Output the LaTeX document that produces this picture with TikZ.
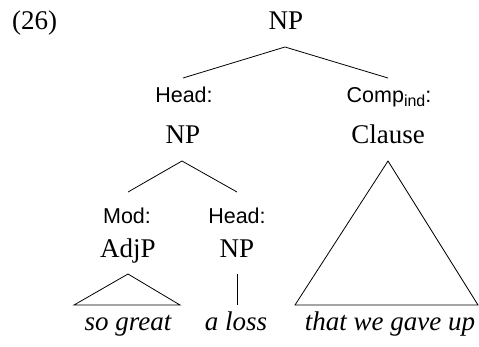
\documentclass[tikz,border=0pt]{standalone}
\usepackage{fontspec}
\setmainfont{Liberation Serif}
\newfontfamily\labelfont{Liberation Sans}
\begin{document}
\begin{tikzpicture}[x=1pt,y=-1pt,
  cat/.style={anchor=base,inner sep=0pt,font=\fontsize{27}{31}\selectfont},
  fn/.style={anchor=base,inner sep=0pt,font=\labelfont\fontsize{21.5}{25}\selectfont},
  word/.style={anchor=base,inner sep=0pt,font=\itshape\fontsize{27}{31}\selectfont},
  branch/.style={line width=0.8pt,line join=miter}]
\useasboundingbox (0,0) rectangle (479,346);

% example number
\node[cat,anchor=base west] (num) at (12,29) {(26)};

% root
\node[cat] (root) at (286,29) {NP};
\coordinate (rootT) at (285,47);
\coordinate (headL) at (183,78);
\coordinate (compR) at (388,78);
\draw[branch] (headL) -- (rootT) -- (compR);

% Head: NP
\node[fn] (headfn) at (184,102) {Head:};
\node[cat] (headnp) at (183,143) {NP};
% Comp_ind: Clause
\node[fn] (compfn) at (389,102) {Comp\raisebox{-0.22em}{\fontsize{16}{19}\selectfont ind}:};
\node[cat] (clause) at (388,143) {Clause};

% daughters of the head NP
\coordinate (npT) at (182,161);
\coordinate (modL) at (128,192);
\coordinate (hdR) at (237,192);
\draw[branch] (modL) -- (npT) -- (hdR);

\node[fn] (modfn) at (127,223) {Mod:};
\node[fn] (hd2fn) at (237,223) {Head:};
\node[cat] (adjp) at (128,257) {AdjP};
\node[cat] (np2) at (237,257) {NP};

% clause triangle
\coordinate (clT) at (388,161);
\coordinate (clL) at (295,305);
\coordinate (clR) at (478,305);
\draw[branch] (clT) -- (clL) -- (clR) -- cycle;

% AdjP triangle
\coordinate (adT) at (128,274);
\coordinate (adL) at (74,305);
\coordinate (adR) at (180,305);
\draw[branch] (adT) -- (adL) -- (adR) -- cycle;

% NP straight line
\coordinate (npV) at (237,274);
\coordinate (npB) at (237,305);
\draw[branch] (npV) -- (npB);

% words
\node[word] (w1) at (128,330) {so great};
\node[word] (w2) at (236,330) {a loss};
\node[word] (w3) at (390,330) {that we gave up};
\end{tikzpicture}
\end{document}
